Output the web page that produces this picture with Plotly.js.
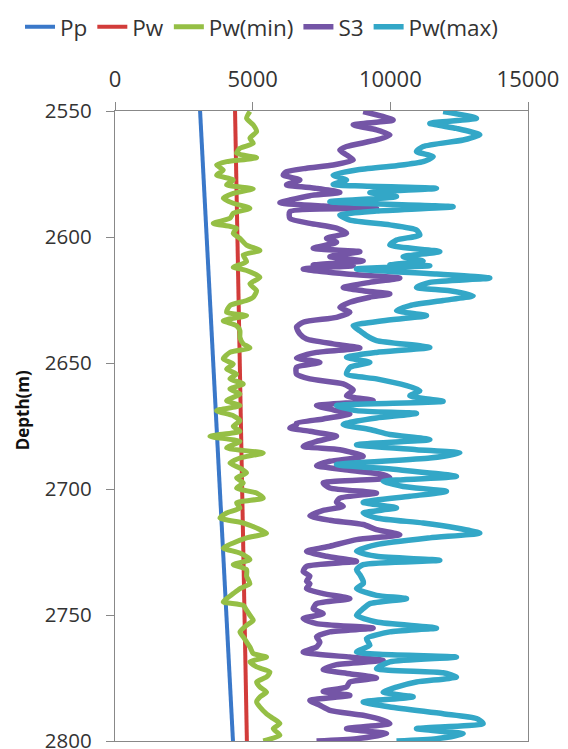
<!DOCTYPE html>
<html>
<head>
<meta charset="utf-8">
<script src="https://cdn.plot.ly/plotly-3.0.1.min.js"></script>
<style>html,body{margin:0;padding:0;background:#fff;}#chart{width:568px;height:749px;}</style>
</head>
<body>
<div id="chart"></div>
<script>
// Pp (pore pressure) - straight line
const ppDepth = [2550, 2800];
const ppValue = [3090, 4285];

// Pw
const pwDepth = [2550, 2800];
const pwValue = [4360, 4790];

// Pw(min)
const pwMinDepth = [2550.2,2552.9,2555.5,2558.2,2560.8,2562.8,2564.8,2566.8,2568.5,2570.1,2571.4,2573.4,2575.4,2577.4,2579.3,2580.9,2582.7,2584.6,2586.6,2588.6,2590.6,2592.6,2594.6,2596.5,2598.5,2600.5,2603.2,2605.4,2607.1,2609.8,2611.4,
  2612.0,2613.3,2616.0,2618.6,2621.3,2623.9,2625.2,2627.2,2629.9,2631.2,2633.2,2635.2,2637.2,2639.8,2642.4,2644.0,2645.8,2648.4,2650.4,2652.4,2654.4,2656.3,2658.3,2660.3,2662.3,2664.9,2666.9,2668.9,2670.9,2672.9,
  2675.1,2677.1,2679.1,2681.1,2683.7,2685.7,2687.7,2689.7,2691.7,2693.6,2695.6,2697.6,2699.6,2701.6,2703.6,2705.5,2707.5,2709.5,2711.5,2713.5,2715.5,2717.5,2719.4,2721.4,2723.4,2725.4,2728.0,2730.0,2732.0,2734.6,
  2737.6,2739.5,2741.5,2743.5,2744.8,2746.2,2748.1,2750.1,2752.1,2754.1,2756.7,2758.7,2760.7,2762.7,2765.3,2766.7,2768.6,2770.6,2772.6,2774.6,2776.6,2778.6,2780.6,2782.5,2784.5,2786.5,2789.2,2791.1,2793.1,2795.1,2797.7,2800];
const pwMinValue = [4900,4779,5021,5142,4900,5021,4537,4416,5142,4053,3690,3932,3690,4295,4053,5021,4295,3932,4295,4900,4295,4174,3569,4416,4295,4537,4779,5263,4658,4779,4416,
  4295,4779,5263,4900,5142,5021,4779,4174,4053,4779,3932,4416,4537,4537,4658,4900,4174,3932,4295,4053,4416,4174,4658,4174,4537,4053,4537,3690,4295,4537,
  4295,4537,3448,4537,4053,5384,4537,4174,4537,4779,4416,4658,4416,5142,5384,4416,4537,4053,3811,4658,5142,5505,4779,4295,3932,4537,4900,4295,4779,4779,
  4900,4537,4295,4053,3932,4658,4779,4900,5021,4779,4537,4658,4779,4900,5021,5505,4900,5142,5626,5505,5142,5263,5505,5263,5142,5263,5505,5747,5989,5747,5989,5384];

// S3
const s3Depth = [2550.2,2553.6,2555.5,2557.5,2559.5,2561.5,2564.1,2565.5,2567.4,2569.4,2571.4,2572.7,2574.1,2575.4,2577.4,2579.3,2580.7,2582.3,2583.6,2585.3,2586.4,2587.7,2588.6,2589.9,2592.6,2594.6,2596.5,2598.5,2600.5,2602.1,2604.5,2605.8,2607.8,2609.5,2611.1,
  2611.4,2612.7,2614.7,2616.3,2618.0,2620.0,2621.3,2622.6,2623.9,2625.9,2627.9,2629.9,2631.9,2633.8,2635.8,2638.5,2640.5,2642.4,2644.0,2645.8,2648.0,2649.7,2651.7,2654.4,2656.3,2658.3,2660.7,2663.0,2664.9,2666.9,2668.6,2670.2,2672.2,2673.9,
  2674.5,2675.8,2677.1,2679.1,2681.1,2683.1,2684.4,2687.0,2689.0,2690.7,2692.3,2694.3,2695.6,2697.6,2699.6,2701.6,2703.6,2705.3,2706.9,2708.5,2710.6,2712.4,2714.1,2716.1,2718.1,2720.1,2722.7,2724.7,2726.7,2728.7,2730.7,2732.7,2734.6,2736.6,
  2737.6,2739.5,2741.5,2743.5,2745.5,2747.5,2749.5,2751.4,2753.4,2755.2,2756.7,2758.7,2760.7,2762.7,2764.7,2766.7,2768.0,2769.7,2771.6,2773.3,2775.0,2776.6,2778.6,2780.3,2781.9,2783.9,2785.8,2787.8,2789.8,2791.8,2793.1,2795.1,2797.1,2799.1,2800];
const s3Value = [9014,10103,8651,9498,9982,9498,8409,8167,8409,8651,7925,6957,6231,6110,6715,6231,7320,8167,7078,6352,5989,7562,9498,6352,6352,7078,8046,8409,7683,8046,7199,8893,7804,9014,7199,
  8651,6836,8409,10345,9256,8288,9014,9982,9256,8530,8167,8530,8046,6836,6594,6715,6957,7925,8893,7320,6594,7441,6594,6594,7078,8288,8651,8409,9377,7320,7925,8530,7562,6594,
  6594,6352,7078,8046,7320,6836,8167,9014,7804,7320,8288,9740,9982,7562,7804,9498,8167,8046,8288,7562,7078,7804,9014,9498,10345,8772,7804,6957,7683,8772,6957,6836,7078,6957,
  7078,6957,7562,8530,7320,7199,7562,6836,7320,9377,7804,7320,7441,7320,6836,8530,9740,8046,7562,8530,9498,8530,8409,7562,8530,7078,7441,7804,9014,9740,9982,8409,9861,8772,7320];

// Pw(max)
const pwMaxDepth = [2550.2,2552.9,2554.9,2556.9,2559.5,2561.5,2564.1,2566.1,2568.1,2570.1,2571.7,2573.4,2575.4,2577.4,2579.1,2580.7,2582.3,2584.0,2586.0,2588.0,2589.7,2591.3,2593.3,2595.2,2597.2,2599.2,2601.2,2603.2,2605.8,2607.8,2609.5,2611.1,
  2611.4,2612.7,2614.7,2616.3,2618.0,2620.0,2621.3,2623.3,2625.2,2627.2,2629.2,2631.2,2633.2,2635.2,2637.2,2639.1,2641.1,2643.8,2645.8,2647.7,2649.7,2651.7,2654.4,2656.3,2659.0,2661.0,2663.0,2665.2,2666.9,2668.9,2670.0,2671.8,2673.9,
  2674.5,2676.4,2678.4,2680.4,2682.4,2684.4,2685.7,2687.7,2690.3,2692.3,2695.0,2697.0,2699.0,2700.9,2702.9,2705.3,2707.5,2709.5,2711.5,2713.5,2715.5,2717.5,2719.4,2722.1,2724.7,2726.7,2728.3,2730.0,2732.0,2734.0,2736.6,
  2737.6,2739.5,2742.2,2743.5,2745.5,2747.5,2750.1,2752.8,2755.2,2756.7,2759.4,2762.0,2764.7,2766.7,2768.6,2771.3,2772.9,2774.6,2776.6,2778.6,2780.6,2782.5,2784.5,2786.5,2789.2,2791.1,2793.1,2795.1,2797.1,2799.1,2800];
const pwMaxValue = [11918,13128,11434,12402,13249,12644,11192,10950,11555,11192,10224,8772,7925,8409,7925,11676,9256,10224,7804,12281,9498,8167,8530,9982,10950,11071,10224,9982,11797,10466,11192,9982,
  11434,8772,11676,13612,11434,10950,12160,13007,11918,10708,10224,11313,9740,8651,8893,9135,9498,11434,9498,8409,9256,8530,8409,9498,10587,11071,10708,11918,8046,8772,10950,9498,8409,
  8288,9256,9982,11434,8772,10950,12523,11434,8046,10224,12402,9740,10466,12039,10708,9014,10224,9014,9498,11192,12402,13249,11434,9498,8772,9498,11797,9014,8772,8893,9014,
  9014,8772,9498,10587,9256,9014,8772,9498,11676,9982,9135,9256,8772,12402,9982,9498,11918,12402,10950,10224,9740,10829,9014,9982,11918,13128,13370,10950,12644,11676,10224];

const seriesNames = ['Pp', 'Pw', 'Pw(min)', 'S3', 'Pw(max)'];
const xTicks = [0, 5000, 10000, 15000];
const yTicks = [2550, 2600, 2650, 2700, 2750, 2800];
const yTitle = 'Depth(m)';

const colors = ['#3a78c9', '#d23c3a', '#95bf45', '#7455a6', '#33a7c7'];
const widths = [4, 4, 5, 5.5, 5.5];
const xs = [ppValue, pwValue, pwMinValue, s3Value, pwMaxValue];
const ys = [ppDepth, pwDepth, pwMinDepth, s3Depth, pwMaxDepth];

const traces = seriesNames.map((n, i) => ({
  type: 'scatter', mode: 'lines', name: n,
  x: xs[i], y: ys[i],
  line: {color: colors[i], width: widths[i], shape: i < 2 ? 'linear' : 'spline', smoothing: 0.6}
}));

const fam = '"Open Sans", "Noto Sans", sans-serif';

const layout = {
  width: 568, height: 749,
  margin: {l: 115, r: 40, t: 111, b: 8, pad: 0, autoexpand: false},
  paper_bgcolor: '#fff', plot_bgcolor: '#fff',
  font: {family: fam, size: 20, color: '#333'},
  showlegend: true,
  legend: {
    orientation: 'h',
    x: -0.23, xanchor: 'left', y: 1.133, yanchor: 'middle',
    font: {family: fam, size: 22.5, color: '#333'},
    itemwidth: 30, tracegroupgap: 0, bgcolor: 'rgba(0,0,0,0)'
  },
  xaxis: {
    side: 'top', range: [0, 15000], tickvals: xTicks, ticktext: xTicks.map(String),
    ticks: 'outside', ticklen: 8, tickcolor: '#888', ticklabelstandoff: 6,
    ticklabeloverflow: 'allow',
    showline: true, linecolor: '#888', linewidth: 1.2, mirror: true,
    showgrid: false, zeroline: false,
    tickfont: {family: fam, size: 22, color: '#333'}
  },
  yaxis: {
    range: [2800, 2550], tickvals: yTicks, ticktext: yTicks.map(String),
    ticks: 'outside', ticklen: 8, tickcolor: '#888', ticklabelstandoff: 10,
    ticklabeloverflow: 'allow',
    showline: true, linecolor: '#888', linewidth: 1.2, mirror: true,
    showgrid: false, zeroline: false,
    tickfont: {family: fam, size: 20.5, color: '#333'}
  },
  annotations: [{
    text: yTitle, xref: 'paper', yref: 'paper', x: -0.225, y: 0.525,
    xanchor: 'center', yanchor: 'middle', textangle: -90, showarrow: false,
    font: {family: fam, size: 17, color: '#111', weight: 'bold'}
  }]
};

Plotly.newPlot('chart', traces, layout, {displayModeBar: false, staticPlot: true});
</script>
</body>
</html>
